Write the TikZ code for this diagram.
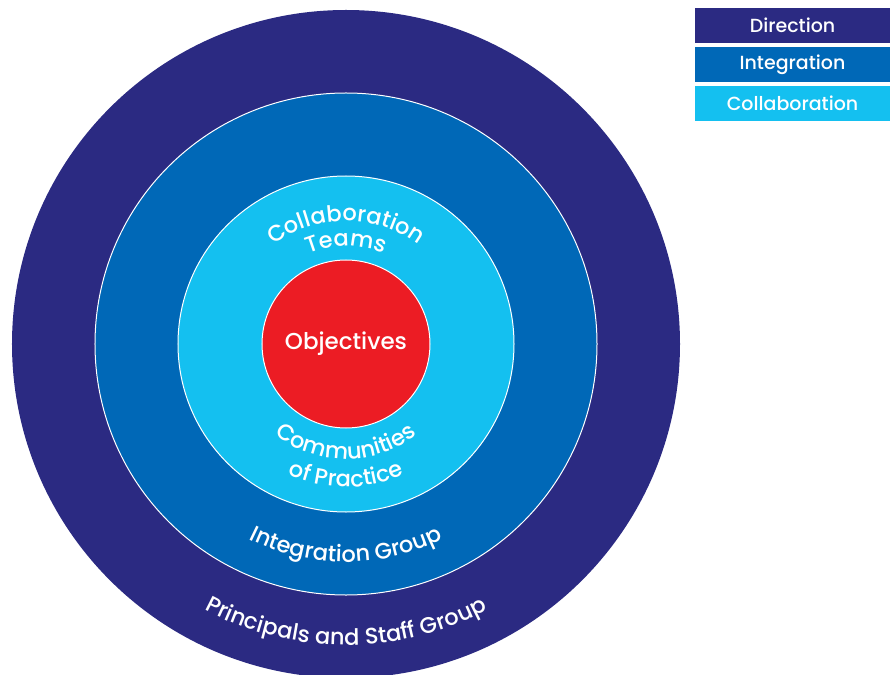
\documentclass[tikz,border=0pt]{standalone}
\usepackage{fontspec}
\setmainfont{Poppins}[UprightFont=* Medium, BoldFont=* SemiBold]
\usepackage{tikz}
\usetikzlibrary{positioning, decorations.text}
\usepackage{xcolor}
\definecolor{directionblue}{RGB}{43, 42, 130}
\definecolor{integrationblue}{RGB}{0, 104, 183}
\definecolor{collabcyan}{RGB}{20, 192, 240}
\definecolor{objectivered}{RGB}{236, 28, 36}
\newcommand{\arcfont}{\color{white}\fontsize{22.5}{26}\selectfont}
\tikzset{
    ring/.style={
        circle,
        draw=white,
        line width=1pt,
        inner sep=0pt
    },
    legend box/.style={
        rectangle,
        minimum width=195pt,
        minimum height=35pt,
        inner sep=0pt,
        text=white,
        font=\fontsize{19}{22}\selectfont
    },
    arc label/.style={
        decorate,
        decoration={text along path, text align=center, text={#1}}
    }
}

\begin{document}
\begin{tikzpicture}[x=1pt, y=1pt]

\useasboundingbox (-346, -330) rectangle (544, 344);

% === RINGS ===
\node[ring, draw=none, fill=directionblue, minimum size=668pt] (direction) at (0, 0) {};
\node[ring, fill=integrationblue, minimum size=502pt] (integration) at (0, 0) {};
\node[ring, fill=collabcyan, minimum size=336pt] (collaboration) at (0, 0) {};
\node[ring, fill=objectivered, minimum size=168pt, text=white,
      font=\fontsize{23}{27}\selectfont] (objectives) at (0, 0) {Objectives};

% === CURVED LABELS ===
\path[arc label={|\arcfont|Collaboration}] (150:123) arc[start angle=150, end angle=30, radius=123];
\path[arc label={|\arcfont|Teams}] (145:98) arc[start angle=145, end angle=35, radius=98];
\path[arc label={|\arcfont|Communities}] (205:115) arc[start angle=205, end angle=335, radius=115];
\path[arc label={|\arcfont|of Practice}] (215:143) arc[start angle=215, end angle=325, radius=143];
\path[arc label={|\arcfont|Integration Group}] (215:218) arc[start angle=215, end angle=325, radius=218];
\path[arc label={|\arcfont|Principals and Staff Group}] (210:301) arc[start angle=210, end angle=330, radius=301];

% === LEGEND ===
\node[legend box, fill=directionblue] (leg_direction) at (446.5, 318.5) {Direction};
\node[legend box, fill=integrationblue, below=3.5pt of leg_direction] (leg_integration) {Integration};
\node[legend box, fill=collabcyan, below=3.5pt of leg_integration] (leg_collaboration) {Collaboration};

\end{tikzpicture}
\end{document}
